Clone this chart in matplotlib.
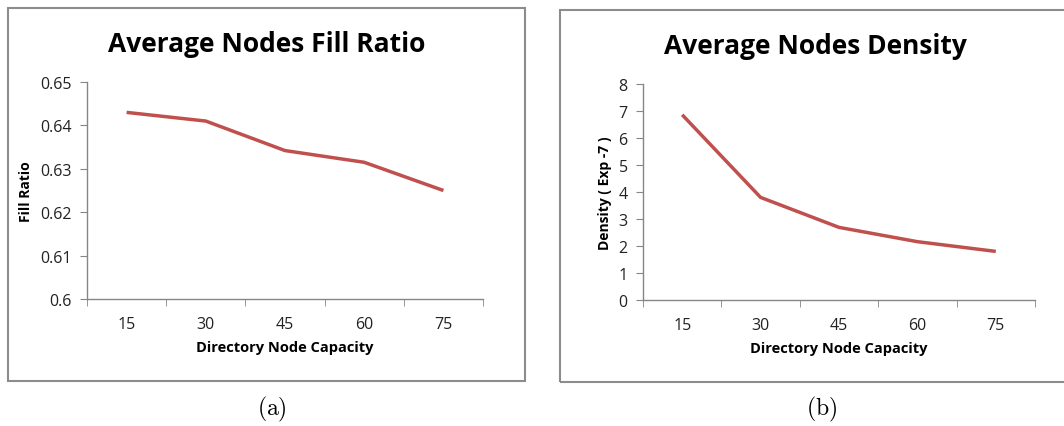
import matplotlib.pyplot as plt
import numpy as np
from matplotlib.patches import Rectangle

capacity = ['15', '30', '45', '60', '75']
fill_ratio = [0.643, 0.641, 0.6342, 0.6315, 0.625]
density = [6.86, 3.80, 2.69, 2.16, 1.80]

plt.rcParams['font.family'] = ['Open Sans', 'DejaVu Sans']
plt.rcParams['mathtext.fontset'] = 'cm'

W, H = 1064, 427
fig = plt.figure(figsize=(W/100, H/100), dpi=100, facecolor='white')

axcol = '#868686'
linecol = '#C0504D'


def box(x0, y0, x1, y1, title, ty):
    r = Rectangle((x0/W, 1-y1/H), (x1-x0)/W, (y1-y0)/H, transform=fig.transFigure,
                  fill=False, edgecolor='#8c8c8c', linewidth=1.5)
    fig.patches.append(r)
    # chart title is centred on the whole chart box, not on the plot area
    fig.text((x0+x1)/2/W, 1-ty/H, title, ha='center', va='center', fontsize=19, fontweight='bold')


def panel(rect, vals, yticks, ylim, ylabel, fmt):
    x0, y0, x1, y1 = rect
    ax = fig.add_axes([x0/W, 1-y1/H, (x1-x0)/W, (y1-y0)/H])
    x = np.arange(len(capacity))
    ax.plot(x, vals, color=linecol, linewidth=2.5, solid_capstyle='butt')
    ax.set_xlim(-0.5, len(capacity)-0.5)
    ax.set_ylim(*ylim)
    ax.set_xticks(x)
    ax.set_xticklabels(capacity)
    ax.set_xticks(np.arange(-0.5, len(capacity)), minor=True)
    ax.tick_params(axis='x', which='major', length=0, pad=12, labelsize=11.5, labelcolor='#222222')
    ax.tick_params(axis='x', which='minor', length=5, color=axcol, direction='out')
    ax.set_yticks(yticks)
    ax.set_yticklabels([fmt(v) for v in yticks])
    ax.tick_params(axis='y', length=5, color=axcol, direction='out', labelsize=11.5, labelcolor='#222222', pad=6)
    for s in ['top', 'right']:
        ax.spines[s].set_visible(False)
    for s in ['left', 'bottom']:
        ax.spines[s].set_color(axcol)
        ax.spines[s].set_linewidth(1)
    ax.set_xlabel('Directory Node Capacity', fontsize=10.5, fontweight='bold', labelpad=6)
    ax.set_ylabel(ylabel, fontsize=10, fontweight='bold', labelpad=5)
    return ax


box(8, 9, 525, 382, 'Average Nodes Fill Ratio', 44)
box(560, 11, 1070, 383, 'Average Nodes Density', 46)

panel((87, 83, 483, 300), fill_ratio, [0.6, 0.61, 0.62, 0.63, 0.64, 0.65], (0.6, 0.65),
      'Fill Ratio', lambda v: ('%.2f' % v).rstrip('0') if v != 0.6 else '0.6')
panel((643, 85, 1035, 301), density, list(range(9)), (0, 8),
      'Density ( Exp -7 )', lambda v: str(v))

fig.text(272/W, 1-409/H, r'$\mathrm{(a)}$', ha='center', va='center', fontsize=17)
fig.text(822/W, 1-409/H, r'$\mathrm{(b)}$', ha='center', va='center', fontsize=17)

fig.savefig('out.png', dpi=100, facecolor='white')
